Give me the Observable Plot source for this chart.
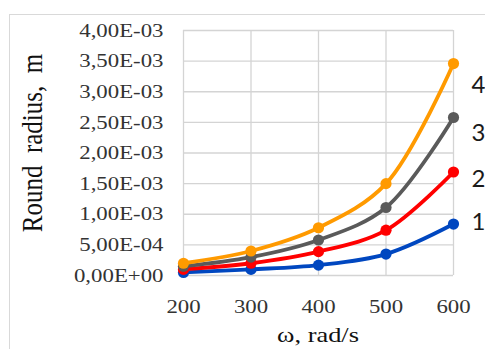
<!DOCTYPE html>
<html><head><meta charset="utf-8">
<script src="https://cdn.jsdelivr.net/npm/d3@7"></script>
<script src="https://cdn.jsdelivr.net/npm/@observablehq/plot@0.6"></script>
<style>
html,body{margin:0;padding:0;background:#fff;}
#wrap{position:relative;width:485px;height:349px;overflow:hidden;}
#frame{position:absolute;left:9px;top:14px;width:490px;height:360px;border:1.5px solid #d9d9d9;box-sizing:border-box;}
#chart{position:absolute;left:0;top:0;}
</style></head><body>
<div id="wrap"><div id="frame"></div><div id="chart"></div></div>
<script>
const omega = [200, 300, 400, 500, 600];
const curve1 = [0.05e-3, 0.10e-3, 0.17e-3, 0.35e-3, 0.84e-3];
const curve2 = [0.10e-3, 0.20e-3, 0.39e-3, 0.74e-3, 1.69e-3];
const curve3 = [0.15e-3, 0.30e-3, 0.58e-3, 1.11e-3, 2.58e-3];
const curve4 = [0.20e-3, 0.40e-3, 0.78e-3, 1.50e-3, 3.46e-3];
const seriesNames = ["1", "2", "3", "4"];
const seriesColors = ["#0047c0", "#ff0000", "#5a5a5a", "#ff9a00"];
const yTicks = [0, 0.5e-3, 1e-3, 1.5e-3, 2e-3, 2.5e-3, 3e-3, 3.5e-3, 4e-3];
const yTickLabels = ["0,00E+00","5,00E-04","1,00E-03","1,50E-03","2,00E-03","2,50E-03","3,00E-03","3,50E-03","4,00E-03"];
const xTicks = [200, 300, 400, 500, 600];
const xTitle = "ω, rad/s";
const yTitle = "Round\u00A0 radius,\u00A0 m";

const allSeries = [curve1, curve2, curve3, curve4];
const data = [];
allSeries.forEach((vals, i) => vals.forEach((v, j) => data.push({s: seriesNames[i], x: omega[j], y: v})));
const ends = allSeries.map((vals, i) => ({s: seriesNames[i], x: omega[omega.length-1], y: vals[vals.length-1]}));
const labelDy = {"1": -2, "2": 7, "3": 16, "4": 22};

const serif = "'Liberation Serif', 'Times New Roman', serif";
const plot = Plot.plot({
  width: 485, height: 349,
  marginLeft: 183, marginRight: 32, marginTop: 30, marginBottom: 74,
  style: {background: "transparent"},
  x: {domain: [200, 600]},
  y: {domain: [0, 4e-3]},
  color: {domain: seriesNames, range: seriesColors},
  marks: [
    Plot.gridY(yTicks, {stroke: "#d4d4d4", strokeOpacity: 1, strokeWidth: 1.3}),
    Plot.gridX(xTicks, {stroke: "#d4d4d4", strokeOpacity: 1, strokeWidth: 1.3}),
    Plot.axisY(yTicks, {tickSize: 0, tickPadding: 20, tickFormat: d => yTickLabels[yTicks.indexOf(d)], label: null, fontSize: 19.5, fontFamily: serif, fill: "#333"}),
    Plot.axisX(xTicks, {tickSize: 0, tickPadding: 24, label: null, fontSize: 19.5, fontFamily: serif, fill: "#333"}),
    Plot.line(data, {x: "x", y: "y", z: "s", stroke: "s", strokeWidth: 3.8, curve: "catmull-rom"}),
    Plot.dot(data, {x: "x", y: "y", fill: "s", r: 5.6}),
    ...seriesNames.map(n => Plot.text(ends.filter(d => d.s === n), {x: "x", y: "y", text: "s", dx: 25, dy: labelDy[n], fontSize: 24, fontFamily: "Lato, 'Open Sans', sans-serif", fill: "#1a1a1a"}))
  ]
});
document.getElementById("chart").appendChild(plot);
const svg = d3.select(plot);
// mimic the horizontally stretched look of the reference text
svg.selectAll("[aria-label='y-axis tick label'] text, [aria-label='x-axis tick label'] text")
  .attr("transform", function() { return (this.getAttribute("transform") || "") + " scale(1.17,1)"; });
svg.append("text")
  .attr("transform", "translate(318,342) scale(1.2,1)")
  .attr("text-anchor", "middle")
  .attr("font-family", serif)
  .attr("font-size", 22)
  .attr("fill", "#111")
  .text(xTitle);
svg.append("text")
  .attr("transform", "translate(42,143) scale(1.15,1) rotate(-90)")
  .attr("text-anchor", "middle")
  .attr("font-family", serif)
  .attr("font-size", 25)
  .attr("fill", "#111")
  .text(yTitle);
</script>
</body></html>
